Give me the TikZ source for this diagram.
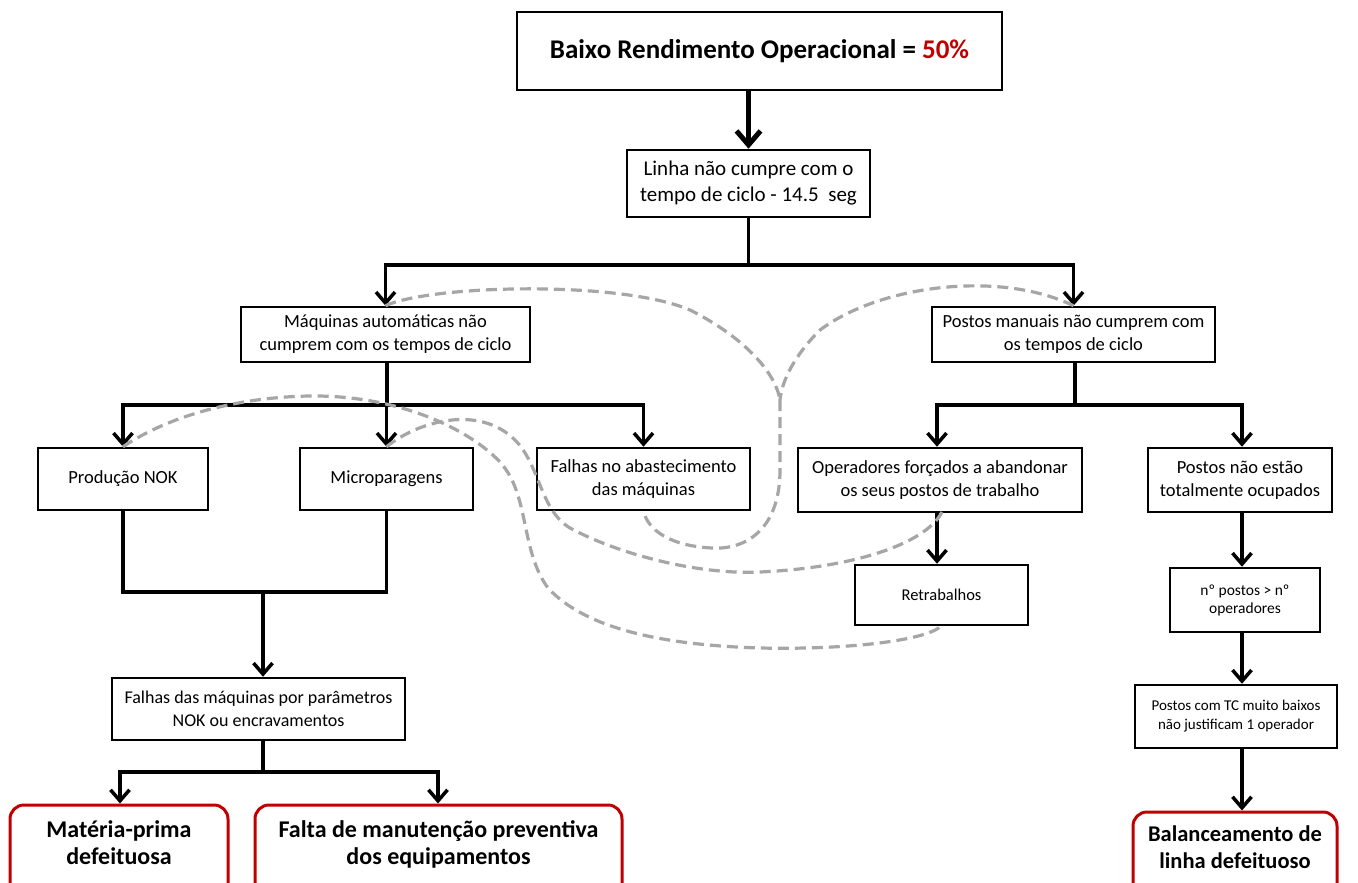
\documentclass[tikz,border=0pt]{standalone}
\usepackage{fontspec}
\setmainfont{Carlito}
\usetikzlibrary{arrows.meta}
\definecolor{redb}{HTML}{C00000}
\definecolor{dgrey}{HTML}{A6A6A6}
\begin{document}
\begin{tikzpicture}[x=1pt,y=-1pt,
 box/.style={draw=black,line width=2.5pt,align=center,inner sep=2pt,fill=white},
 fbig/.style={font=\fontsize{21}{26}\selectfont},
 fmed/.style={font=\fontsize{18.5}{23}\selectfont},
 fsmall/.style={font=\fontsize{15}{19}\selectfont},
 redbox/.style={draw=redb,line width=3pt,rounded corners=14pt,align=center,fill=white,font=\fontsize{24}{27}\selectfont\bfseries},
 conn/.style={line width=3.5pt},
 arr/.style={conn,-{Straight Barb[length=11pt,width=19pt]}},
 bigarr/.style={line width=5pt,-{Straight Barb[length=14pt,width=24pt]}},
 dashcurve/.style={draw=dgrey,line width=3.2pt,dash pattern=on 11pt off 6pt}
]
\clip (0,0) rectangle (1358,883);
\fill[white] (0,0) rectangle (1358,883);

% boxes
\node[box,minimum width=485pt,minimum height=78pt,font=\fontsize{27}{30}\selectfont\bfseries] (title) at (759.5,51) {Baixo Rendimento Operacional = \textcolor{redb}{50\%}};
\node[box,fbig,minimum width=243pt,minimum height=67pt] (linha) at (748.5,183.5) {Linha não cumpre com o\\tempo de ciclo - 14.5 \ seg};
\node[box,fmed,minimum width=289pt,minimum height=55pt] (maq) at (385.5,334.5) {Máquinas automáticas não\\cumprem com os tempos de ciclo};
\node[box,fmed,minimum width=283pt,minimum height=55pt] (postos) at (1073.5,334.5) {Postos manuais não cumprem com\\os tempos de ciclo};
\node[box,fmed,minimum width=170pt,minimum height=62pt] (prod) at (123,479) {Produção NOK};
\node[box,fmed,minimum width=173pt,minimum height=62pt] (micro) at (386.5,479) {Microparagens};
\node[box,fmed,minimum width=213pt,minimum height=62pt] (abast) at (643.5,479) {Falhas no abastecimento\\das máquinas};
\node[box,fmed,minimum width=284pt,minimum height=64pt] (oper) at (940,480) {Operadores forçados a abandonar\\os seus postos de trabalho};
\node[box,fmed,minimum width=184pt,minimum height=64pt] (pne) at (1240,480) {Postos não estão\\totalmente ocupados};
\node[box,font=\fontsize{16.5}{20}\selectfont,minimum width=173pt,minimum height=60pt] (retr) at (941.5,595) {Retrabalhos};
\node[box,font=\fontsize{15.5}{18}\selectfont,minimum width=150pt,minimum height=64pt] (npostos) at (1245,600) {nº postos > nº\\operadores};
\node[box,fsmall,minimum width=202pt,minimum height=63pt] (tc) at (1236,716.5) {Postos com TC muito baixos\\não justificam 1 operador};
\node[box,font=\fontsize{18}{23}\selectfont,minimum width=293pt,minimum height=62pt] (fmaq) at (258.5,709) {Falhas das máquinas por parâmetros\\NOK ou encravamentos};
\node[redbox,font=\fontsize{22.5}{27}\selectfont\bfseries,minimum width=204pt,minimum height=92pt,text depth=22pt] (bal) at (1235,858) {Balanceamento de\\linha defeituoso};
\node[redbox,minimum width=218pt,minimum height=98pt,text depth=22pt] (mat) at (119,854) {Matéria-prima\\defeituosa};
\node[redbox,minimum width=367pt,minimum height=98pt,text depth=22pt] (falta) at (438.5,854) {Falta de manutenção preventiva\\dos equipamentos};

% connectors
\draw[bigarr] (title.south -| linha.north) -- (linha.north);
\coordinate (j1) at (748.5,265);
\draw[conn] (linha.south) -- (j1);
\draw[arr] (j1) -| (maq.north);
\draw[arr] (j1) -| (postos.north);

\coordinate (j2) at (387,405);
\draw[conn] (maq.south -| j2) -- (j2);
\draw[arr] (j2) -| (prod.north);
\draw[arr] (j2) -| (micro.north);
\draw[arr] (j2) -| (abast.north);

\coordinate (j3) at (1075,405);
\draw[conn] (postos.south -| j3) -- (j3);
\draw[arr] (j3) -| (oper.north -| 937,0);
\draw[arr] (j3) -| (pne.north -| 1242,0);

\draw[arr] (oper.south -| 937,0) -- (retr.north -| 937,0);
\draw[arr] (pne.south -| 1242,0) -- (npostos.north -| 1242,0);
\draw[arr] (npostos.south -| 1242,0) -- (tc.north -| 1242,0);
\draw[arr] (tc.south -| 1242,0) -- (bal.north -| 1242,0);

\coordinate (j4) at (263,592);
\draw[conn] (prod.south) |- (j4);
\draw[conn] (micro.south) |- (j4);
\draw[arr] (j4) -- (fmaq.north -| j4);
\coordinate (j5) at (263,772);
\draw[conn] (fmaq.south -| j5) -- (j5);
\draw[arr] (j5) -| (mat.north -| 120,0);
\draw[arr] (j5) -| (falta.north -| 438,0);

% dashed relations
\coordinate (m) at (780,400);
\draw[dashcurve] (maq.north) .. controls (430,285) and (620,280) .. (690,310) .. controls (740,335) and (775,370) .. (m);
\draw[dashcurve] (postos.north) .. controls (1000,270) and (880,285) .. (820,330) .. controls (795,355) and (782,380) .. (m);
\draw[dashcurve] (m) -- (780,470) .. controls (780,530) and (745,550) .. (712,548) .. controls (670,546) and (648,530) .. (abast.south);
\draw[dashcurve] (prod.north) .. controls (170,415) and (240,397) .. (310,396) .. controls (400,395) and (470,430) .. (500,462) .. controls (530,495) and (520,550) .. (548,588) .. controls (585,628) and (660,645) .. (760,648) .. controls (850,650) and (930,640) .. (942,625);
\draw[dashcurve] (micro.north) .. controls (420,420) and (480,405) .. (515,440) .. controls (540,465) and (540,510) .. (570,528) .. controls (620,555) and (700,575) .. (760,572) .. controls (850,568) and (925,545) .. (942,512);
\end{tikzpicture}
\end{document}
